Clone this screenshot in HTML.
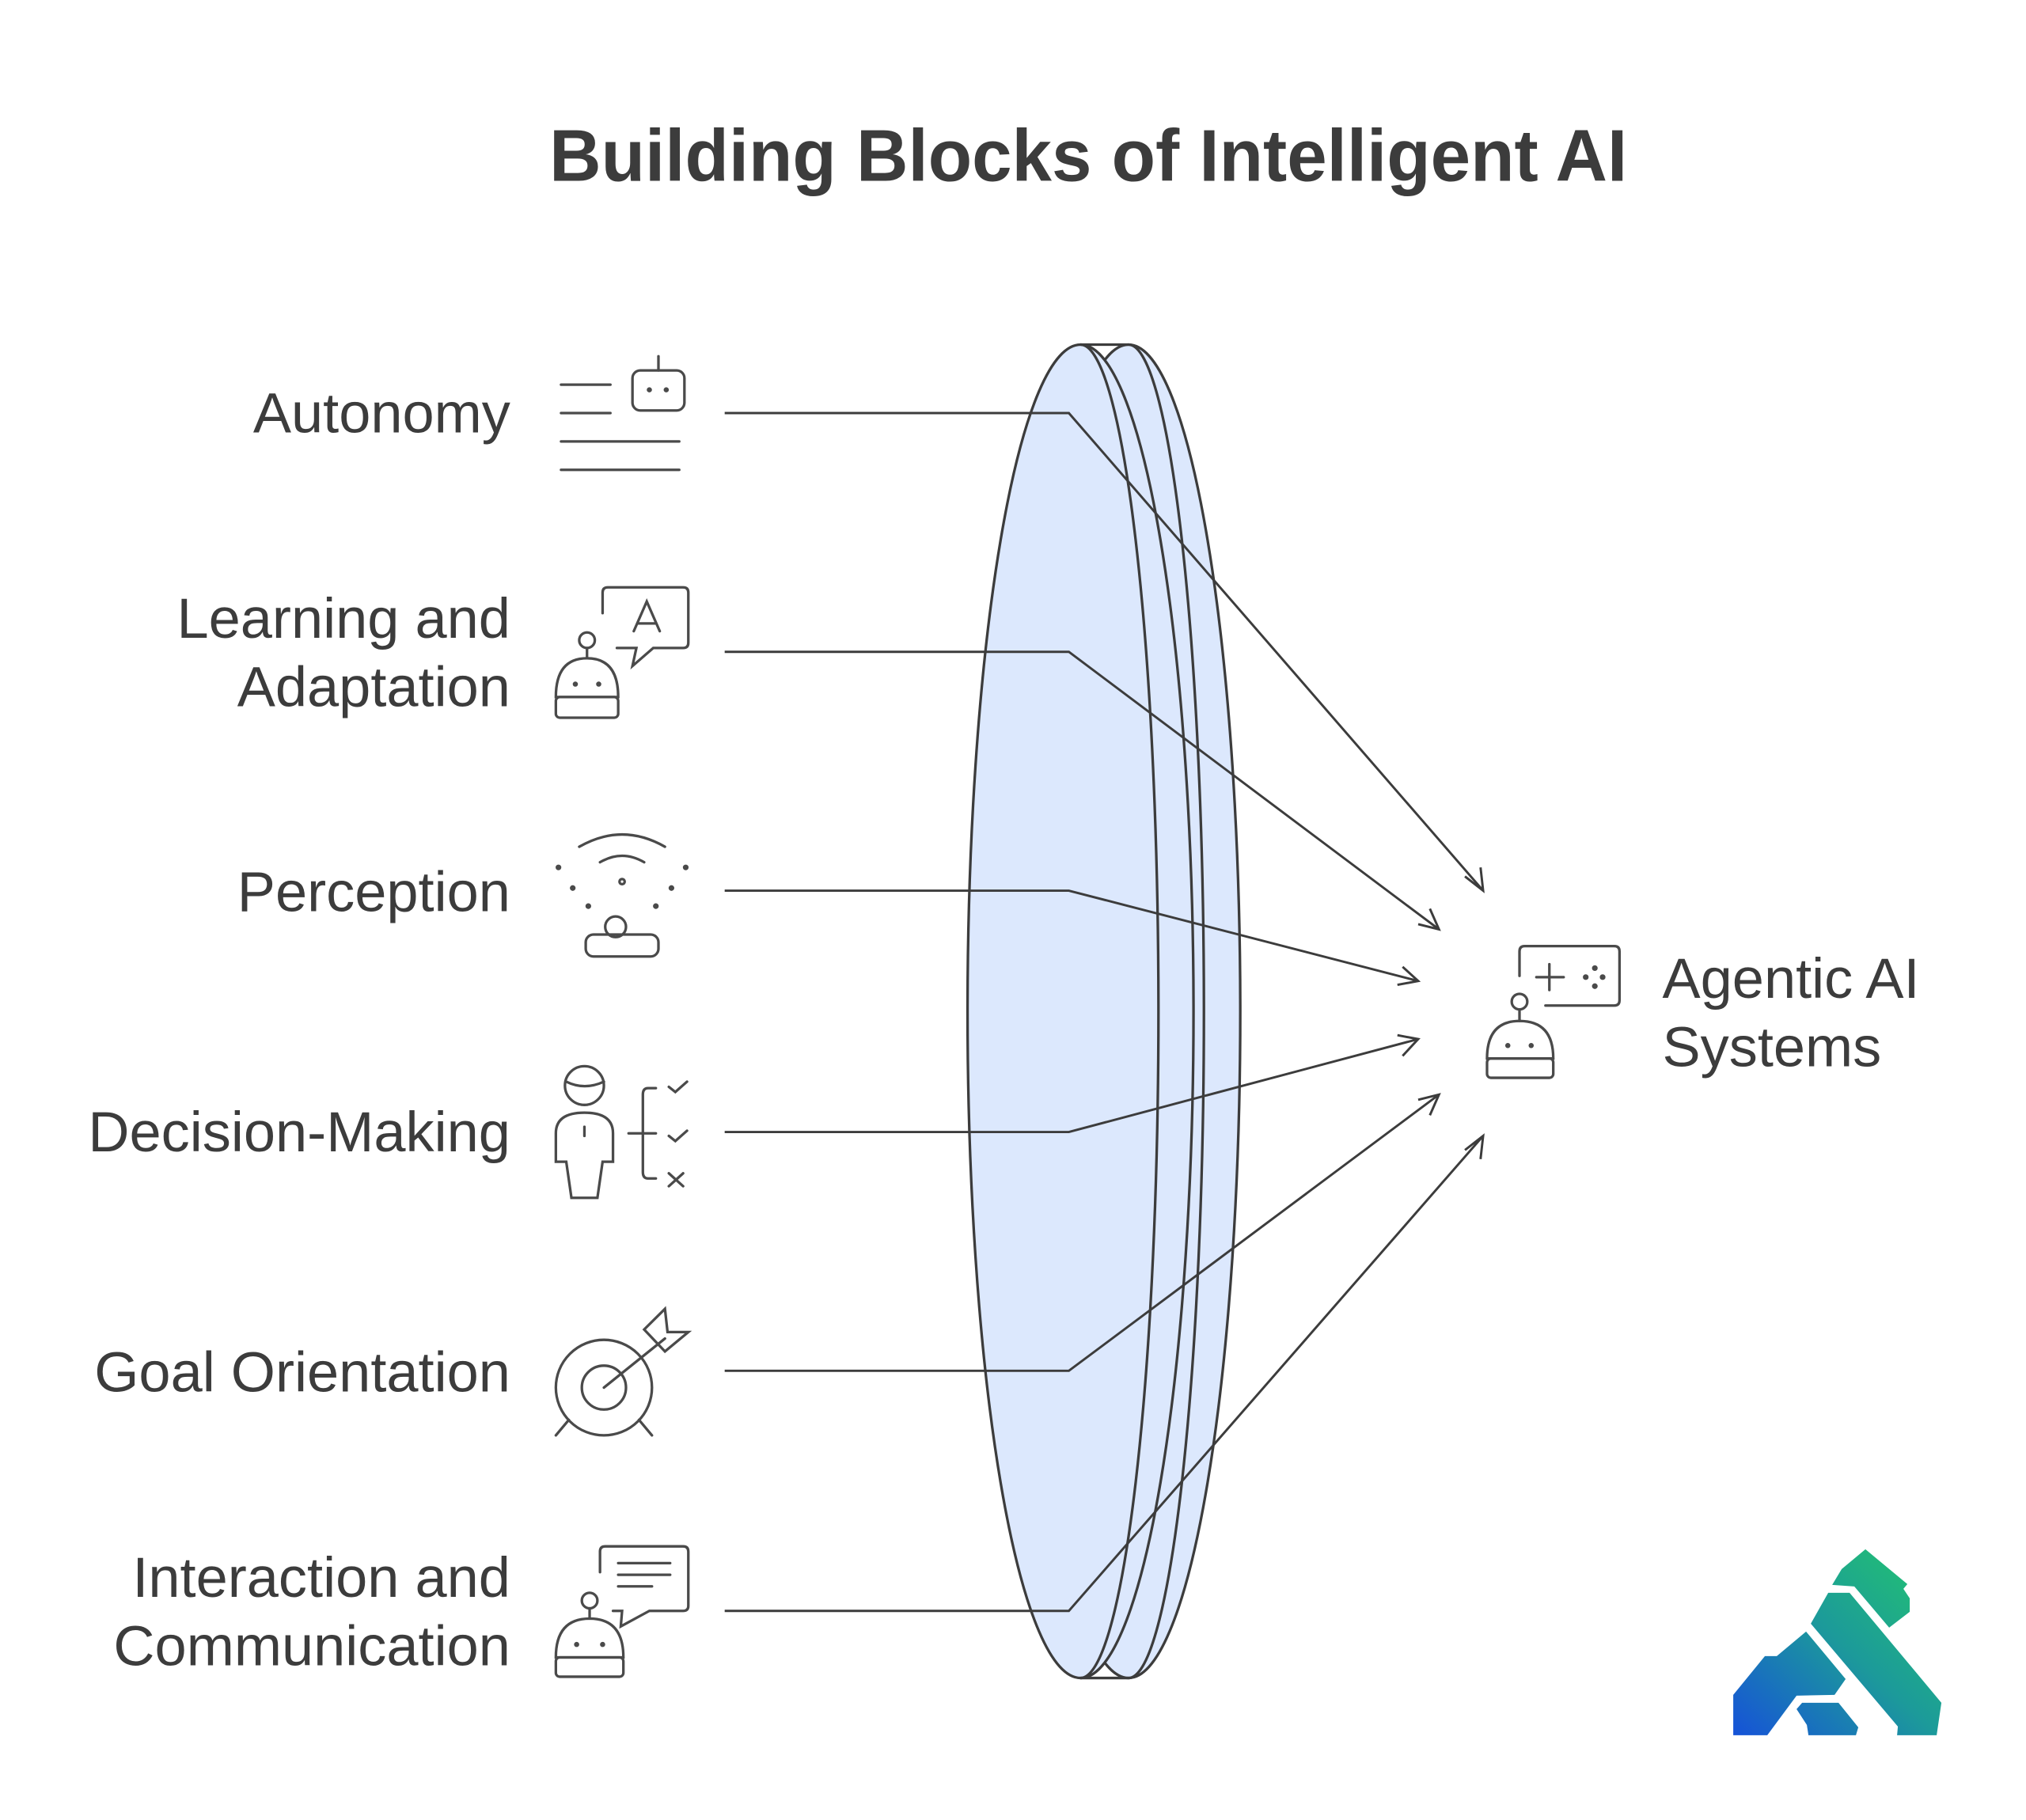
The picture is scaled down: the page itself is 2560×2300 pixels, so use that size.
<!DOCTYPE html>
<html><head><meta charset="utf-8"><style>
html,body{margin:0;padding:0;background:#fff;}
svg{display:block;}
text{font-family:"Liberation Sans",Arial,sans-serif;fill:#3c3c3c;}
</style></head><body>
<svg width="2560" height="2300" viewBox="0 0 1560 1410" preserveAspectRatio="none" xmlns="http://www.w3.org/2000/svg">
<defs>
<linearGradient id="lg" gradientUnits="userSpaceOnUse" x1="2190" y1="2193" x2="2413" y2="1958">
<stop offset="0" stop-color="#1652d8"/><stop offset="0.55" stop-color="#1c9a9a"/><stop offset="1" stop-color="#22bf74"/>
</linearGradient>
</defs>
<rect width="1560" height="1410" fill="#fff"/>
<text x="838" y="140" text-anchor="middle" font-size="57" font-weight="bold" textLength="830" lengthAdjust="spacingAndGlyphs">Building Blocks of Intelligent AI</text>

<g stroke="#3c3c3c" stroke-width="2" fill="#dce8fd">
<ellipse cx="869" cy="783.5" rx="86" ry="516.5"/>
<ellipse cx="832" cy="783.5" rx="87" ry="516.5"/>
<path d="M832 267 A60 516.5 0 0 1 832 1300" fill="none"/>
<path d="M869 267 A58 516.5 0 0 1 869 1300" fill="none"/>
<line x1="832" y1="267" x2="869" y2="267"/>
<line x1="832" y1="1300" x2="869" y2="1300"/>
</g>

<g stroke="#3c3c3c" stroke-width="1.8" fill="none">
<polyline points="558,320 823,320 1142,690"/>
<polyline points="558,505 823,505 1108,720"/>
<polyline points="558,690 823,690 1092,760"/>
<polyline points="558,877 823,877 1092,805"/>
<polyline points="558,1062 823,1062 1108,848"/>
<polyline points="558,1248 823,1248 1142,880"/>
<polyline points="1128,679 1142,690 1140,672"/>
<polyline points="1092,716 1108,720 1101,704"/>
<polyline points="1076,763 1092,760 1080,749"/>
<polyline points="1076,802 1092,805 1080,818"/>
<polyline points="1092,852 1108,848 1101,864"/>
<polyline points="1128,891 1142,880 1140,898"/>
</g>

<g font-size="44" text-anchor="end">
<text x="393" y="335">Autonomy</text>
<text x="393" y="494">Learning and</text>
<text x="393" y="547">Adaptation</text>
<text x="393" y="706">Perception</text>
<text x="393" y="892">Decision-Making</text>
<text x="393" y="1078">Goal Orientation</text>
<text x="393" y="1237">Interaction and</text>
<text x="393" y="1290">Communication</text>
</g>
<text x="1280" y="773" font-size="44">Agentic AI</text>
<text x="1280" y="826" font-size="44">Systems</text>

<g stroke="#4a4a4a" stroke-width="2" fill="none" stroke-linecap="round">
<line x1="432" y1="298" x2="470" y2="298"/><line x1="432" y1="320" x2="470" y2="320"/>
<line x1="432" y1="342" x2="523" y2="342"/><line x1="432" y1="364" x2="523" y2="364"/>
<rect x="487" y="287" width="40" height="31" rx="6"/><line x1="507" y1="276" x2="507" y2="287"/>
<circle cx="500" cy="302" r="1" fill="#4a4a4a"/><circle cx="513" cy="302" r="1" fill="#4a4a4a"/>
<circle cx="452" cy="496" r="6"/><line x1="452" y1="502" x2="452" y2="510"/>
<path d="M428 540 Q428 510 452 510 Q476 510 476 540 Z"/><rect x="428" y="540" width="48" height="16" rx="3"/>
<circle cx="443" cy="530" r="1" fill="#4a4a4a"/><circle cx="461" cy="530" r="1" fill="#4a4a4a"/>
<path d="M464 475 V459 Q464 455 468 455 H526 Q530 455 530 459 V498 Q530 502 526 502 H503 L487 516 L490 502 H475"/>
<path d="M488 489 L498 466 L508 489 M491 483 H505"/>
<path d="M446 656 Q479 637 512 656"/><path d="M462 668 Q479 658 496 668"/>
<circle cx="479" cy="683" r="2"/>
<circle cx="430" cy="672" r="1.2" fill="#4a4a4a"/><circle cx="528" cy="672" r="1.2" fill="#4a4a4a"/>
<circle cx="441" cy="688" r="1.2" fill="#4a4a4a"/><circle cx="517" cy="688" r="1.2" fill="#4a4a4a"/>
<circle cx="453" cy="702" r="1.2" fill="#4a4a4a"/><circle cx="505" cy="702" r="1.2" fill="#4a4a4a"/>
<circle cx="474" cy="718" r="8"/><rect x="451" y="724" width="56" height="17" rx="6"/>
<circle cx="450" cy="841" r="15"/><path d="M436 838 Q450 845 465 838"/>
<path d="M440 928 L436 900 H428 V878 Q428 862 450 862 Q472 862 472 878 V900 H464 L460 928 Z"/>
<line x1="450" y1="873" x2="450" y2="880"/>
<path d="M505 843 H499 Q495 843 495 848 V908 Q495 913 499 913 H505"/><line x1="484" y1="878" x2="505" y2="878"/>
<path d="M515 842 L520 846 L529 838"/><path d="M515 880 L520 884 L529 876"/>
<path d="M515 909 L526 919 M526 909 L515 919"/>
<circle cx="465" cy="1075" r="37"/><circle cx="465" cy="1075" r="17"/>
<line x1="465" y1="1075" x2="512" y2="1037"/>
<path d="M496 1030 L512 1014 L514 1032 L530 1032 L512 1047 Z"/>
<line x1="438" y1="1100" x2="428" y2="1112"/><line x1="492" y1="1100" x2="502" y2="1112"/>
<circle cx="454" cy="1240" r="6"/><line x1="454" y1="1246" x2="454" y2="1254"/>
<path d="M428 1284 Q428 1254 454 1254 Q480 1254 480 1284 Z"/><rect x="428" y="1284" width="52" height="15" rx="3"/>
<circle cx="444" cy="1274" r="1" fill="#4a4a4a"/><circle cx="464" cy="1274" r="1" fill="#4a4a4a"/>
<path d="M462 1218 V1202 Q462 1198 466 1198 H526 Q530 1198 530 1202 V1244 Q530 1248 526 1248 H500 L478 1260 L479 1248 H472"/>
<line x1="476" y1="1211" x2="516" y2="1211"/><line x1="476" y1="1220" x2="516" y2="1220"/><line x1="476" y1="1229" x2="502" y2="1229"/>
<path d="M1170 756 V737 Q1170 733 1174 733 H1243 Q1247 733 1247 737 V775 Q1247 779 1243 779 H1190"/>
<line x1="1183" y1="757" x2="1204" y2="757"/><line x1="1193" y1="747" x2="1193" y2="767"/>
<circle cx="1221" cy="757" r="1.2" fill="#4a4a4a"/><circle cx="1234" cy="757" r="1.2" fill="#4a4a4a"/>
<circle cx="1228" cy="750" r="1.2" fill="#4a4a4a"/><circle cx="1228" cy="764" r="1.2" fill="#4a4a4a"/>
<circle cx="1170" cy="776" r="6"/><line x1="1170" y1="782" x2="1170" y2="791"/>
<path d="M1145 820 Q1145 791 1170 791 Q1196 791 1196 820 Z"/><rect x="1145" y="820" width="51" height="15" rx="3"/>
<circle cx="1161" cy="810" r="1" fill="#4a4a4a"/><circle cx="1179" cy="810" r="1" fill="#4a4a4a"/>
</g>

<g transform="scale(0.6094,0.6130)" fill="url(#lg)">
<polygon points="2315,2003 2327,1983 2357,1958 2410,2002 2405,2008 2413,2020 2413,2037 2387,2057 2343,2005"/>
<polygon points="2288,2052 2310,2013 2337,2013 2453,2152 2447,2193 2397,2193 2398,2182"/>
<polygon points="2190,2142 2230,2093 2245,2093 2282,2062 2332,2122 2318,2142 2270,2143 2233,2193 2190,2193"/>
<polygon points="2270,2160 2277,2152 2323,2152 2348,2183 2345,2193 2285,2193 2283,2180"/>
</g>
</svg>
</body></html>
